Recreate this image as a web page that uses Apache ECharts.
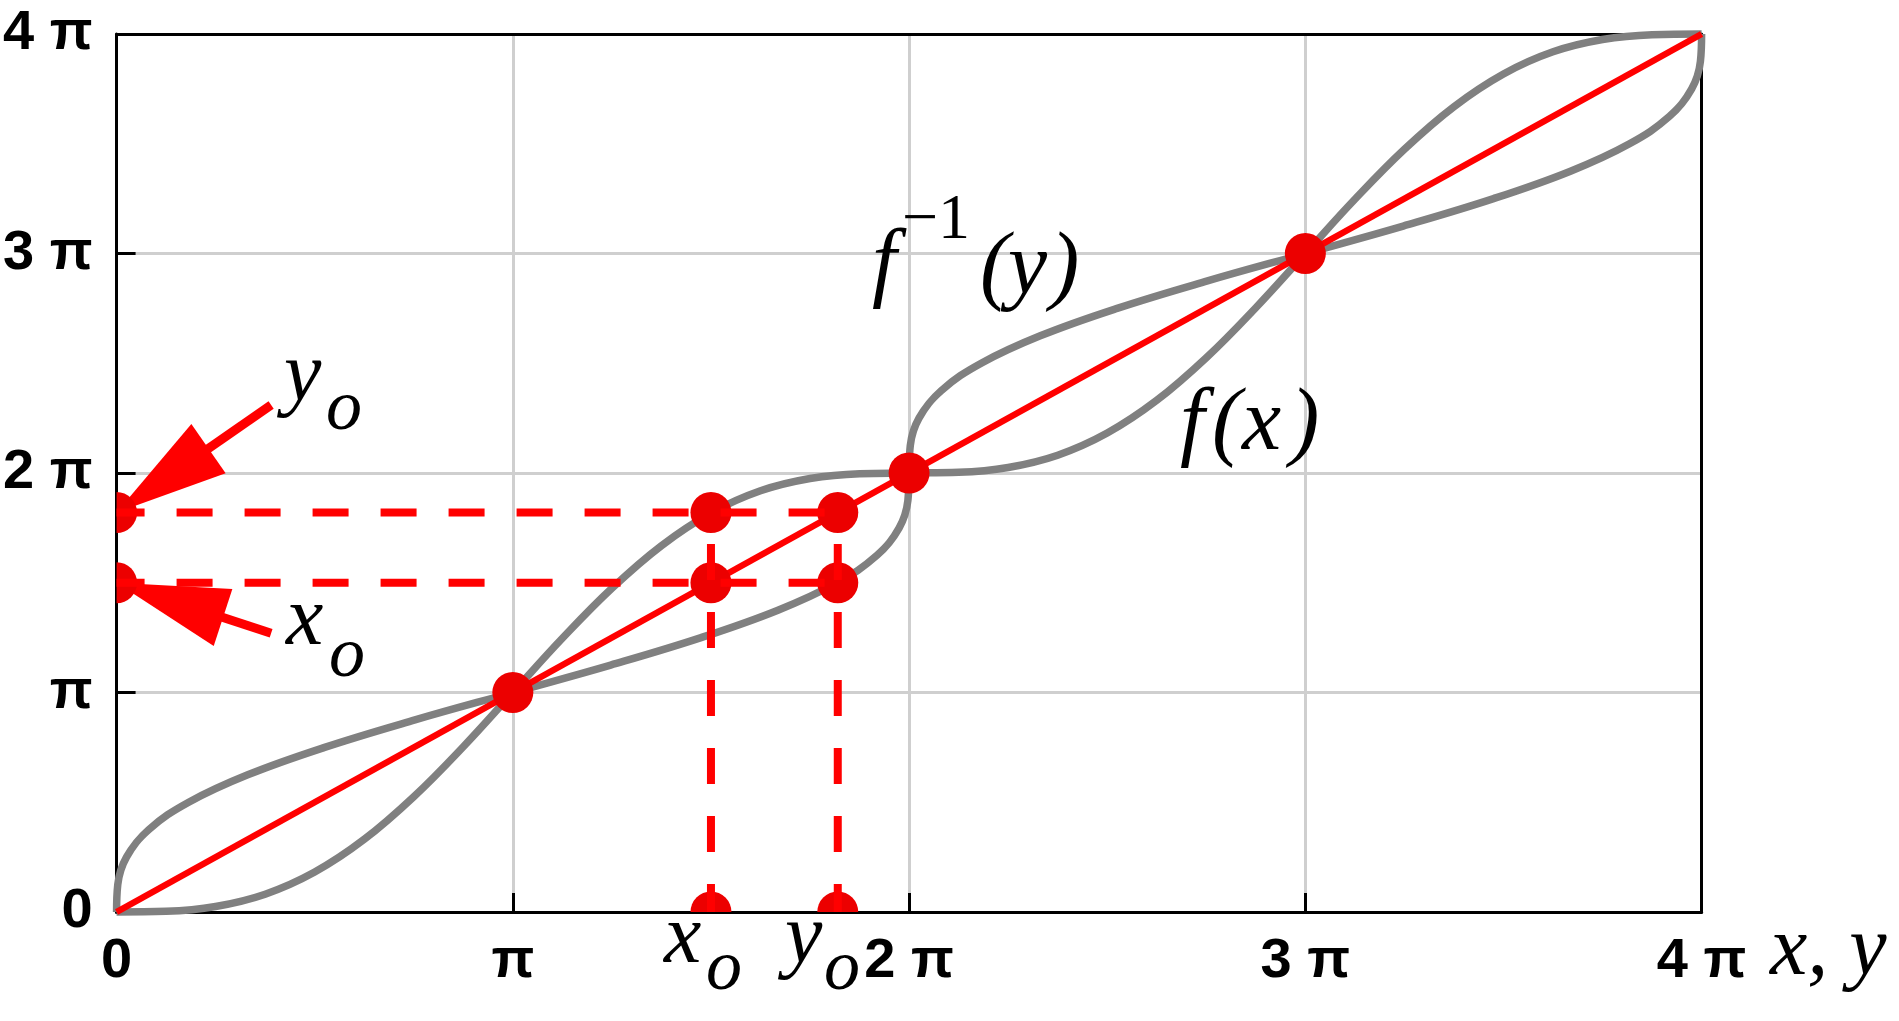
<!DOCTYPE html>
<html>
<head>
<meta charset="utf-8">
<script src="https://cdn.jsdelivr.net/npm/echarts@6/dist/echarts.min.js"></script>
<style>
html, body { margin: 0; padding: 0; background: #fff; }
#main { width: 1899px; height: 1021px; }
</style>
</head>
<body>
<div id="main"></div>
<script>
// all values in units of pi
var tickLabels = ['0', 'π', '2 π', '3 π', '4 π'];

// f(x)
var curveX = [0, 0.125, 0.25, 0.375, 0.5, 0.625, 0.75, 0.875, 1,
    1.125, 1.25, 1.375, 1.5, 1.625, 1.75, 1.875, 2,
    2.125, 2.25, 2.375, 2.5, 2.625, 2.75, 2.875, 3,
    3.125, 3.25, 3.375, 3.5, 3.625, 3.75, 3.875, 4];
var curveF = [0, 0.003, 0.025, 0.081, 0.182, 0.331, 0.525, 0.753, 1,
    1.247, 1.475, 1.669, 1.818, 1.919, 1.975, 1.997, 2,
    2.003, 2.025, 2.081, 2.182, 2.331, 2.525, 2.753, 3,
    3.247, 3.475, 3.669, 3.818, 3.919, 3.975, 3.997, 4];

var diagX = [0, 4];
var diagY = [0, 4];

var x0 = 1.5;
var y0 = 1.82;

var dotX = [1, 2, 3, x0, x0, y0, y0, x0, y0, 0, 0];
var dotY = [1, 2, 3, x0, y0, y0, x0, 0, 0, x0, y0];

// dashed guide segments [from, to]
var dashX = [[0, y0], [0, y0], [x0, x0], [y0, y0]];
var dashY = [[y0, y0], [x0, x0], [0, y0], [0, y0]];

var arrowTail = [[0.39, 2.31], [0.39, 1.27]];
var arrowTip = [[0, y0], [0, x0]];

var chart = echarts.init(document.getElementById('main'));

var fData = curveX.map(function (x, i) { return [x, curveF[i]]; });
var invData = curveX.map(function (x, i) { return [curveF[i], x]; });

var labelFont = {
    fontFamily: 'Liberation Sans',
    fontWeight: 'bold',
    fontSize: 56,
    color: '#000'
};

function mainAxis(pos) {
    return {
        type: 'value', position: pos, min: 0, max: 4, interval: 1,
        axisLine: { show: true, onZero: false, lineStyle: { color: '#000', width: 3 } },
        axisTick: { show: true, inside: true, length: 19, lineStyle: { color: '#000', width: 3 } },
        axisLabel: Object.assign({
            margin: pos == 'left' ? 24 : 22,
            formatter: function (v) { return tickLabels[v]; }
        }, labelFont),
        splitLine: { show: true, showMinLine: false, showMaxLine: false,
            lineStyle: { color: '#cfcfcf', width: 3 } }
    };
}
function frameAxis(pos) {
    return {
        type: 'value', position: pos, min: 0, max: 4, interval: 1,
        axisLine: { show: true, onZero: false, lineStyle: { color: '#000', width: 3 } },
        axisTick: { show: false }, axisLabel: { show: false }, splitLine: { show: false }
    };
}

var series = [];
series.push({
    type: 'line', data: invData, smooth: 0.4, symbol: 'none', clip: false,
    lineStyle: { color: '#808080', width: 7.5 }, z: 2
});
series.push({
    type: 'line', data: fData, smooth: 0.4, symbol: 'none', clip: false,
    lineStyle: { color: '#808080', width: 7.5 }, z: 2
});
series.push({
    type: 'line', data: diagX.map(function (x, i) { return [x, diagY[i]]; }),
    symbol: 'none', lineStyle: { color: '#ff0000', width: 6.5 }, z: 3
});

// arrows pointing at x0 / y0 on the vertical axis
series.push({
    type: 'custom', z: 4, clip: false,
    data: arrowTail.map(function (t, i) { return [t[0], t[1], arrowTip[i][0], arrowTip[i][1]]; }),
    encode: { x: [0, 2], y: [1, 3] },
    renderItem: function (params, api) {
        var a = api.coord([api.value(0), api.value(1)]);
        var b = api.coord([api.value(2), api.value(3)]);
        var dx = b[0] - a[0], dy = b[1] - a[1];
        var len = Math.sqrt(dx * dx + dy * dy);
        var ux = dx / len, uy = dy / len;
        var headLen = 112, headW = 30;
        var bx = b[0] - ux * headLen, by = b[1] - uy * headLen;
        return {
            type: 'group',
            children: [{
                type: 'line',
                shape: { x1: a[0], y1: a[1], x2: bx + ux * 4, y2: by + uy * 4 },
                style: { stroke: '#ff0000', lineWidth: 9 }
            }, {
                type: 'polygon',
                shape: { points: [[b[0], b[1]], [bx - uy * headW, by + ux * headW], [bx + uy * headW, by - ux * headW]] },
                style: { fill: '#ff0000' }
            }]
        };
    }
});

// dots (half dots where they sit on an axis)
series.push({
    type: 'custom', z: 5, clip: false,
    data: dotX.map(function (x, i) { return [x, dotY[i]]; }),
    renderItem: function (params, api) {
        var x = api.value(0), y = api.value(1);
        var p = api.coord([x, y]);
        var r = 20.5;
        var style = { fill: '#ec0000' };
        if (x === 0) {
            return { type: 'sector', shape: { cx: p[0], cy: p[1], r0: 0, r: r,
                startAngle: -Math.PI / 2, endAngle: Math.PI / 2, clockwise: true }, style: style };
        }
        if (y === 0) {
            return { type: 'sector', shape: { cx: p[0], cy: p[1], r0: 0, r: r,
                startAngle: Math.PI, endAngle: Math.PI * 2, clockwise: true }, style: style };
        }
        return { type: 'circle', shape: { cx: p[0], cy: p[1], r: r }, style: style };
    }
});

dashX.forEach(function (xs, i) {
    series.push({
        type: 'line', symbol: 'none', z: 6,
        data: [[xs[0], dashY[i][0]], [xs[1], dashY[i][1]]],
        lineStyle: { color: '#ff0000', width: 8, type: [36, 32], dashOffset: 8 }
    });
});

// math text: [text, x, baseline, size, italic]
var texts = [
    ['y', 284, 406, 84, true], ['o', 326, 435, 72, true],
    ['x', 286, 650, 84, true], ['o', 329, 682, 72, true],
    ['x', 664, 968, 84, true], ['o', 706, 995, 72, true],
    ['y', 785, 968, 84, true], ['o', 824, 995, 72, true],
    ['x, y', 1770, 980, 84, true],
    ['f', 872, 297, 88, true], ['−1', 902, 243, 64, false], ['(', 980, 300, 88, true],
    ['y', 1008, 300, 88, true], [')', 1050, 300, 88, true],
    ['f', 1180, 456, 88, true], ['(', 1212, 456, 88, true], ['x', 1242, 456, 88, true],
    [')', 1290, 456, 88, true]
];

chart.setOption({
    backgroundColor: '#fff',
    animation: false,
    grid: { left: 112.6, right: 197.4, top: 34, bottom: 109 },
    xAxis: [mainAxis('bottom'), frameAxis('top')],
    yAxis: [mainAxis('left'), frameAxis('right')],
    series: series,
    graphic: texts.map(function (t) {
        return {
            type: 'text', x: t[1], y: t[2] - 0.34 * t[3], z: 10,
            style: {
                text: t[0], fill: '#000',
                font: (t[4] ? 'italic ' : '') + t[3] + 'px "Liberation Serif"',
                align: 'left', verticalAlign: 'middle'
            }
        };
    })
});
</script>
</body>
</html>
